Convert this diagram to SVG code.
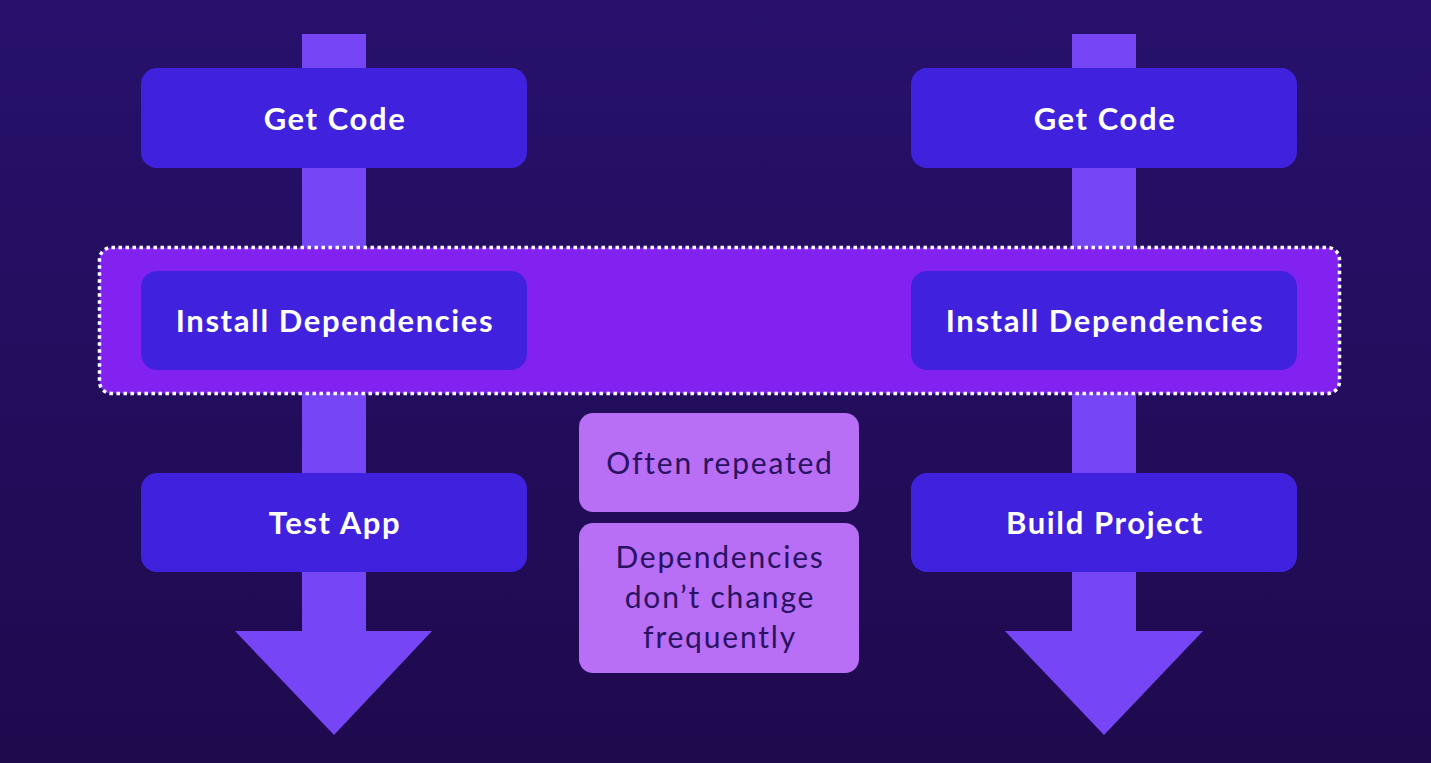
<svg xmlns="http://www.w3.org/2000/svg" width="1431" height="763" viewBox="0 0 1431 763">
<defs>
<linearGradient id="bg" x1="0" y1="0" x2="0" y2="1">
<stop offset="0" stop-color="#27116c"/>
<stop offset="1" stop-color="#1f0a4e"/>
</linearGradient>
</defs>
<style>
.shaft{fill:#7545f6}
.box{fill:#4022de}
.lbl{font-family:Lato,"Noto Sans",sans-serif;font-weight:700;font-size:31px;letter-spacing:1.6px;fill:#ffffff;text-anchor:middle}
.note{fill:#b86ef5}
.ntxt{font-family:Lato,"Noto Sans",sans-serif;font-weight:400;font-size:30px;letter-spacing:1.8px;fill:#2a1262;text-anchor:middle}
</style>
<rect width="1431" height="763" fill="url(#bg)"/>
<g id="connectors">
<polygon class="shaft" points="302,34 366,34 366,631 432,631 334,735 235,631 302,631"/>
<polygon class="shaft" points="1072,34 1136,34 1136,631 1203,631 1104,735 1005,631 1072,631"/>
</g>
<g id="band">
<rect x="99.5" y="247.5" width="1240" height="146" rx="12" fill="#8222f0" stroke="#ffffff" stroke-width="3.5" stroke-dasharray="3.5 3.5"/>
</g>
<g id="getcode-left"><rect class="box" x="141" y="68" width="386" height="100" rx="16"/><text class="lbl" x="335" y="130">Get Code</text></g>
<g id="getcode-right"><rect class="box" x="911" y="68" width="386" height="100" rx="16"/><text class="lbl" x="1105" y="130">Get Code</text></g>
<g id="install-left"><rect class="box" x="141" y="271" width="386" height="99" rx="16"/><text class="lbl" x="335" y="332">Install Dependencies</text></g>
<g id="install-right"><rect class="box" x="911" y="271" width="386" height="99" rx="16"/><text class="lbl" x="1105" y="332">Install Dependencies</text></g>
<g id="test-app"><rect class="box" x="141" y="473" width="386" height="99" rx="16"/><text class="lbl" x="335" y="534">Test App</text></g>
<g id="build-project"><rect class="box" x="911" y="473" width="386" height="99" rx="16"/><text class="lbl" x="1105" y="534">Build Project</text></g>
<g id="note-repeated"><rect class="note" x="579" y="413" width="280" height="99" rx="14"/><text class="ntxt" x="720" y="474">Often repeated</text></g>
<g id="note-deps"><rect class="note" x="579" y="523" width="280" height="150" rx="14"/><text class="ntxt" x="720" y="568">Dependencies</text><text class="ntxt" x="720" y="608">don’t change</text><text class="ntxt" x="720" y="648">frequently</text></g>
</svg>
